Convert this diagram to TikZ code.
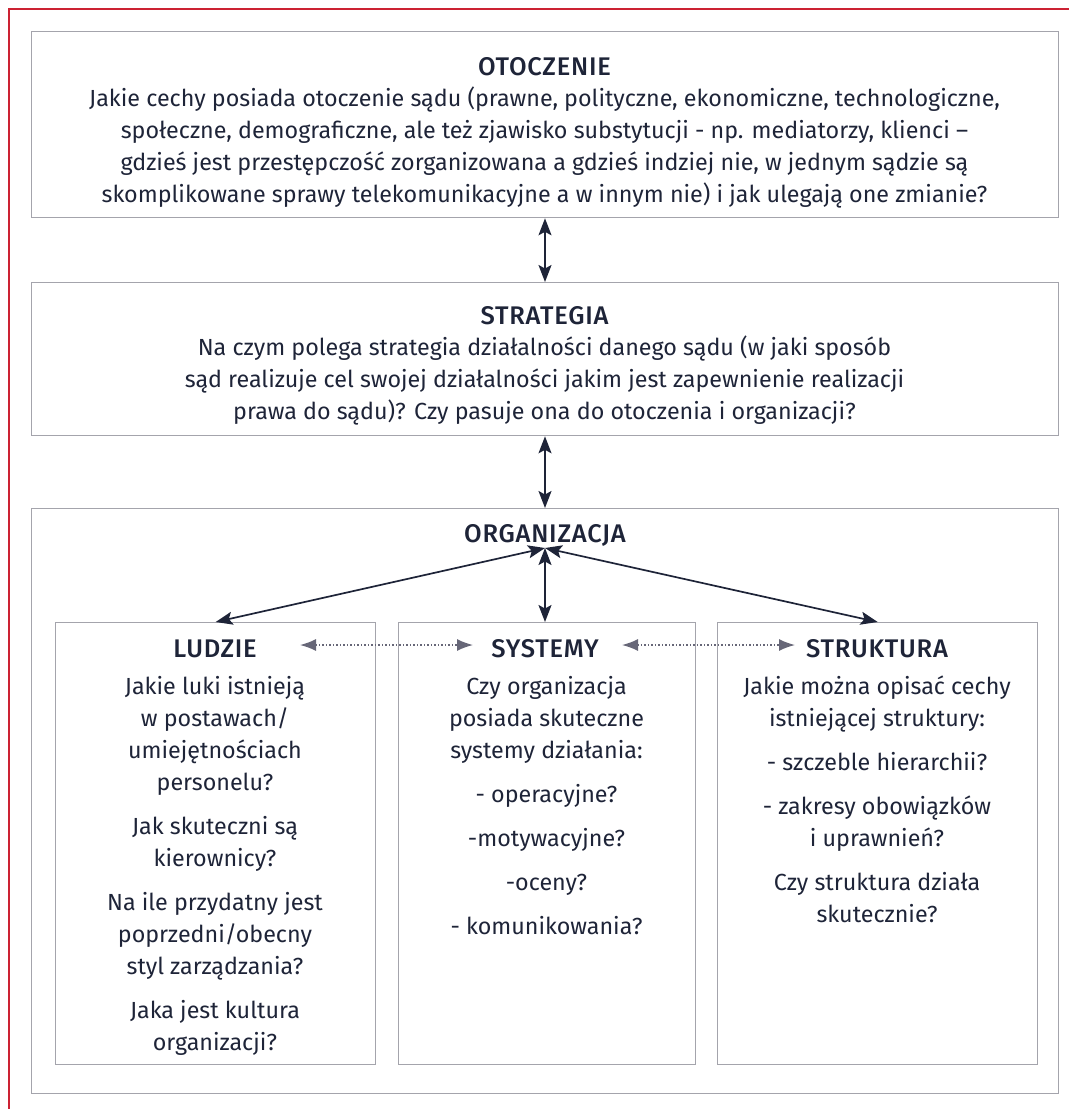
\documentclass[tikz,border=0pt]{standalone}
\usepackage{fontspec}
\setmainfont{Fira Sans}
\newfontfamily\headfont[LetterSpace=3]{Fira Sans Medium}
\usetikzlibrary{arrows.meta}
\definecolor{ink}{HTML}{1E2438}
\definecolor{frame}{HTML}{A4A4AC}
\definecolor{dotink}{HTML}{676778}
\definecolor{edge}{HTML}{CC2233}
\begin{document}
\begin{tikzpicture}[x=1pt,y=-1pt,
  panel/.style={draw=frame, line width=1.3pt, rectangle, inner sep=0pt, anchor=north west},
  % multi-line texts are anchored at the baseline of their last line
  body/.style={text=ink, font=\fontsize{23.3}{32}\selectfont, align=center, anchor=base, inner sep=0pt},
  head/.style={text=ink, font=\fontsize{25.5}{32}\selectfont\headfont, anchor=base, inner sep=0pt},
  link/.style={draw=ink, line width=1.7pt, {Stealth[length=17pt,width=13pt,inset=3.5pt]}-{Stealth[length=17pt,width=13pt,inset=3.5pt]}},
  peer/.style={draw=dotink, line width=1.5pt, dotted, {Latex[length=16pt,width=12pt]}-{Latex[length=16pt,width=12pt]}}
]
\useasboundingbox (0,0) rectangle (1069,1109);
% page edge marks
\draw[edge, line width=1.2pt] (9,1109) -- (9,9) -- (1069,9);

% outer panels
\node[panel, minimum width=1027pt, minimum height=186pt] (otoczenie) at (31,31) {};
\node[panel, minimum width=1027pt, minimum height=153pt] (strategia) at (31,282) {};
\node[panel, minimum width=1027pt, minimum height=585pt] (organizacja) at (31,508) {};

% inner panels
\node[panel, minimum width=320pt, minimum height=442pt] (ludzie) at (55,622) {};
\node[panel, minimum width=297pt, minimum height=442pt] (systemy) at (398,622) {};
\node[panel, minimum width=320pt, minimum height=442pt] (struktura) at (717,622) {};

% OTOCZENIE
\node[head] (otoczenieT) at (544.5,75) {OTOCZENIE};
\node[body] (otoczenieB) at (544.5,202) {Jakie cechy posiada otoczenie sądu (prawne, polityczne, ekonomiczne, technologiczne,\\
społeczne, demograficzne, ale też zjawisko substytucji - np. mediatorzy, klienci –\\
gdzieś jest przestępczość zorganizowana a gdzieś indziej nie, w jednym sądzie są\\
skomplikowane sprawy telekomunikacyjne a w innym nie) i jak ulegają one zmianie?};

% STRATEGIA
\node[head] (strategiaT) at (544.5,324) {STRATEGIA};
\node[body] (strategiaB) at (544.5,419) {Na czym polega strategia działalności danego sądu (w jaki sposób\\
sąd realizuje cel swojej działalności jakim jest zapewnienie realizacji\\
prawa do sądu)? Czy pasuje ona do otoczenia i organizacji?};

% ORGANIZACJA
\node[head] (organizacjaT) at (545,542) {ORGANIZACJA};
\coordinate (hub) at (545,548);

% LUDZIE
\node[head] (ludzieT) at (215,657) {LUDZIE};
\node[body] (ludzieB) at (215,1050) {Jakie luki istnieją\\ w postawach/\\ umiejętnościach\\ personelu?\\[12pt]
Jak skuteczni są\\ kierownicy?\\[12pt]
Na ile przydatny jest\\ poprzedni/obecny\\ styl zarządzania?\\[12pt]
Jaka jest kultura\\ organizacji?};

% SYSTEMY
\node[head] (systemyT) at (545,657) {SYSTEMY};
\node[body] (systemyB) at (546.5,934) {Czy organizacja\\ posiada skuteczne\\ systemy działania:\\[12pt]
- operacyjne?\\[12pt] -motywacyjne?\\[12pt] -oceny?\\[12pt] - komunikowania?};

% STRUKTURA
\node[head] (strukturaT) at (877,657) {STRUKTURA};
\node[body] (strukturaB) at (877,922) {Jakie można opisać cechy\\ istniejącej struktury:\\[12pt]
- szczeble hierarchii?\\[12pt]
- zakresy obowiązków\\ i uprawnień?\\[12pt]
Czy struktura działa\\ skutecznie?};

% vertical links between levels
\draw[link] (otoczenie.south -| hub) -- (strategia.north -| hub);
\draw[link] (strategia.south -| hub) -- (organizacja.north -| hub);

% links from the organisation hub
\draw[link] (hub) -- (ludzie.north);
\draw[link] (hub) -- (systemy.north -| hub);
\draw[link] (hub) -- (struktura.north);

% dotted links between the three parts
\coordinate (p1) at (300,645);
\coordinate (p2) at (473,645);
\coordinate (p3) at (622,645);
\coordinate (p4) at (795,645);
\draw[peer] (p1) -- (p2);
\draw[peer] (p3) -- (p4);
\end{tikzpicture}
\end{document}
